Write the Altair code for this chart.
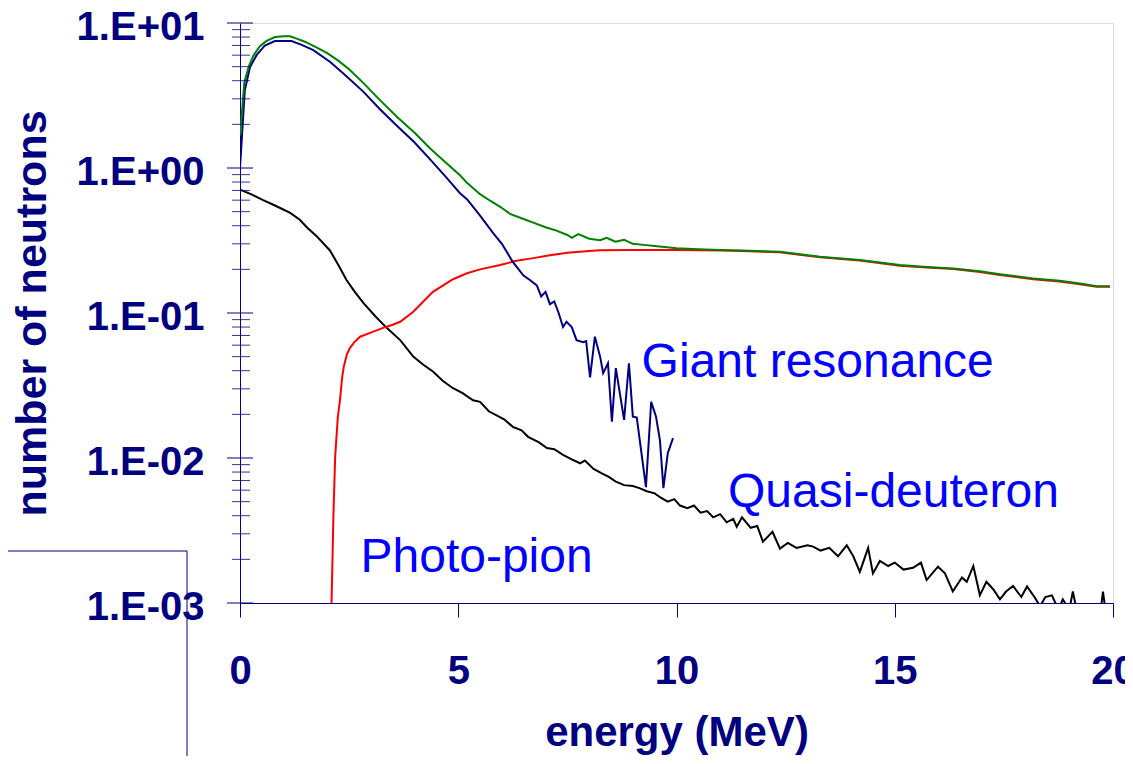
import altair as alt
import pandas as pd

# ---------------- data ----------------
total_x = [0, 0.1, 0.2, 0.3, 0.45, 0.6, 0.8, 1.0, 1.15, 1.3, 1.5, 1.75, 2.0, 2.25, 2.5,
           2.83, 3.2, 3.6, 4.0, 4.35, 4.7, 5.04, 5.2, 5.5, 5.75, 5.96, 6.2, 6.45, 6.72,
           7.0, 7.25, 7.5, 7.6, 7.75, 8.0, 8.25, 8.4, 8.6, 8.8, 9.0, 9.25, 9.5, 9.78,
           10.0, 10.5, 11.0, 11.5, 12.0, 12.37, 13.29, 14.2, 15.12, 15.73, 16.34, 16.95,
           17.41, 18.17, 18.78, 19.24, 19.63, 19.93]
total_y = [1.68, 3.9, 5.0, 5.9, 6.9, 7.5, 8.0, 8.1, 8.1, 7.8, 7.4, 6.8, 6.2, 5.5, 4.8,
           3.85, 2.95, 2.25, 1.75, 1.37, 1.1, 0.89, 0.79, 0.66, 0.59, 0.54, 0.48, 0.45, 0.42,
           0.39, 0.37, 0.345, 0.33, 0.35, 0.325, 0.318, 0.33, 0.31, 0.32, 0.30, 0.295, 0.29, 0.284,
           0.28, 0.275, 0.272, 0.27, 0.267, 0.264, 0.244, 0.232, 0.214, 0.208, 0.203, 0.194,
           0.185, 0.173, 0.167, 0.16, 0.153, 0.153]

giant_x = [0, 0.11, 0.23, 0.38, 0.57, 0.8, 1.0, 1.18, 1.4, 1.68, 2.06, 2.4, 2.83, 3.2, 3.6,
           4.0, 4.35, 4.7, 5.04, 5.2, 5.5, 5.8, 6.0, 6.25, 6.49, 6.64, 6.8, 6.9, 7.0, 7.1,
           7.2, 7.3, 7.4, 7.48, 7.6, 7.71, 7.86, 7.93, 8.02, 8.13, 8.25, 8.32, 8.43, 8.52,
           8.61, 8.8, 8.91, 9.0, 9.09, 9.3, 9.42, 9.53, 9.62, 9.7, 9.8, 9.92]
giant_y = [1.0, 3.44, 4.98, 6.0, 7.0, 7.5, 7.5, 7.5, 7.1, 6.5, 5.4, 4.4, 3.35, 2.55, 1.95,
           1.5, 1.15, 0.88, 0.67, 0.61, 0.47, 0.355, 0.3, 0.225, 0.182, 0.169, 0.155, 0.13, 0.14, 0.115,
           0.12, 0.1, 0.08, 0.087, 0.08, 0.065, 0.063, 0.064, 0.036, 0.0686, 0.05, 0.0385, 0.045, 0.0178,
           0.0417, 0.0183, 0.045, 0.0193, 0.019, 0.0063, 0.0244, 0.0193, 0.0133, 0.0062, 0.0108, 0.0137]

pion_x = [2.09, 2.14, 2.18, 2.24, 2.29, 2.34, 2.38, 2.45, 2.52, 2.62, 2.75, 2.98, 3.28, 3.5,
          3.67, 3.97, 4.2, 4.42, 4.88, 5.2, 5.5, 5.96, 6.3, 6.72, 7.1, 7.5, 8.0, 8.25, 9.0,
          10.0, 10.5, 11.0, 11.5, 12.0, 12.37, 13.29, 14.2, 15.12, 15.73, 16.34, 16.95,
          17.41, 18.17, 18.78, 19.24, 19.63, 19.93]
pion_y = [0.0008, 0.004, 0.0102, 0.019, 0.025, 0.036, 0.043, 0.052, 0.0575, 0.063, 0.0686, 0.073, 0.079, 0.083,
          0.087, 0.102, 0.12, 0.14, 0.171, 0.188, 0.2, 0.214, 0.228, 0.239, 0.25, 0.26, 0.268, 0.271, 0.272,
          0.272, 0.271, 0.27, 0.268, 0.265, 0.262, 0.242, 0.23, 0.212, 0.206, 0.201, 0.192,
          0.183, 0.171, 0.165, 0.158, 0.152, 0.152]

quasi_x = [0, 0.25, 0.53, 0.75, 0.92, 1.15, 1.37, 1.53, 1.75, 2.06, 2.25, 2.44, 2.63, 2.83,
           3.1, 3.36, 3.67, 3.97, 4.2, 4.42, 4.65, 4.88, 5.1, 5.34, 5.5, 5.7, 5.9, 6.05, 6.25,
           6.45, 6.6, 6.85, 7.03, 7.2, 7.4, 7.6, 7.79, 7.9, 8.1, 8.3, 8.45, 8.6, 8.8, 9.0,
           9.15, 9.32, 9.5, 9.65, 9.8, 9.95, 10.08, 10.25, 10.4, 10.55, 10.7, 10.84, 11.0,
           11.15, 11.3, 11.38, 11.5, 11.7, 11.85, 11.98, 12.2, 12.37, 12.55, 12.75, 13.0,
           13.13, 13.3, 13.5, 13.7, 13.9, 14.05, 14.2, 14.39, 14.5, 14.66, 14.85, 15.0, 15.2,
           15.42, 15.6, 15.73, 15.99, 16.15, 16.33, 16.54, 16.65, 16.8, 16.95, 17.1, 17.26,
           17.41, 17.55, 17.71, 17.9, 18.03, 18.2, 18.33, 18.45, 18.6, 18.75, 18.85, 19.0,
           19.08, 19.2, 19.5, 19.7, 19.77, 19.85, 20.0]
quasi_y = [0.71, 0.66, 0.6, 0.56, 0.53, 0.49, 0.44, 0.39, 0.34, 0.27, 0.215, 0.169, 0.14, 0.117,
           0.095, 0.079, 0.065, 0.05, 0.044, 0.0395, 0.034, 0.0303, 0.028, 0.025, 0.0244, 0.021, 0.0195, 0.0185, 0.0164,
           0.0155, 0.014, 0.0128, 0.0117, 0.0115, 0.0105, 0.0098, 0.0092, 0.0096, 0.0084, 0.0078, 0.0074, 0.0069, 0.0065, 0.0064,
           0.0062, 0.0059, 0.0057, 0.0053, 0.005, 0.0052, 0.0047, 0.0045, 0.0047, 0.0042, 0.0043, 0.0039, 0.0041,
           0.0036, 0.0038, 0.00336, 0.0039, 0.0033, 0.0034, 0.00265, 0.0031, 0.00237, 0.0026, 0.0024, 0.0025,
           0.00245, 0.0023, 0.0024, 0.0021, 0.0025, 0.0021, 0.00164, 0.0024, 0.0016, 0.00195, 0.0018, 0.0019, 0.0017,
           0.00175, 0.0019, 0.00144, 0.00178, 0.0016, 0.0012, 0.0015, 0.0014, 0.0018, 0.00113, 0.0014, 0.00124,
           0.00106, 0.0012, 0.00131, 0.0011, 0.0013, 0.0011, 0.00095, 0.0011, 0.00113, 0.0009, 0.00106, 0.0009,
           0.0012, 0.0008, 0.0008, 0.0008, 0.0012, 0.0008, 0.0008]

ann_labels = ["Giant resonance", "Quasi-deuteron", "Photo-pion"]
ann_x = [9.2, 11.18, 2.76]
ann_y = [0.0361, 0.0046, 0.00164]

x_ticks = [0, 5, 10, 15, 20]
y_ticks = [0.001, 0.01, 0.1, 1, 10]
y_tick_labels = ["1.E-03", "1.E-02", "1.E-01", "1.E+00", "1.E+01"]
y_minor = [d * k for d in [0.001, 0.01, 0.1, 1] for k in range(2, 10)]

NAVY = "#000080"
FONT = "Liberation Sans"

label_expr = ""
for v, lab in zip(y_ticks[:-1], y_tick_labels[:-1]):
    label_expr += f"datum.value < {v * 2} ? '{lab}' : "
label_expr += f"'{y_tick_labels[-1]}'"

xscale = alt.Scale(domain=[0, 20], nice=False, zero=False)
yscale = alt.Scale(type="log", domain=[0.001, 10], nice=False)

xaxis = alt.Axis(values=x_ticks, format="d", grid=False, domainColor=NAVY, domainWidth=1,
                 tickColor=NAVY, tickSize=14, tickWidth=1,
                 labelFont=FONT, labelFontSize=40, labelFontWeight="bold", labelColor=NAVY,
                 labelPadding=34, labelFlush=False, labelOverlap=False,
                 title="energy (MeV)", titleFont=FONT, titleFontSize=42, titleFontWeight="bold",
                 titleColor=NAVY, titleY=142, titleBaseline="alphabetic")
yaxis = alt.Axis(values=y_ticks, labelExpr=label_expr, grid=False, ticks=False, tickSize=0,
                 domainColor=NAVY, domainWidth=1,
                 labelFont=FONT, labelFontSize=40, labelFontWeight="bold", labelColor=NAVY,
                 labelPadding=36, labelOffset=4, labelFlush=False, labelOverlap=False,
                 title="number of neutrons", titleFont=FONT, titleFontSize=43, titleFontWeight="bold",
                 titleColor=NAVY, titleX=-195, titleY=290, titleAngle=-90,
                 titleBaseline="alphabetic", titleAlign="center")

X = alt.X("x:Q", scale=xscale, axis=xaxis)
Y = alt.Y("y:Q", scale=yscale, axis=yaxis)


def line(xs, ys, color):
    df = pd.DataFrame({"x": xs, "y": ys})
    return alt.Chart(df).mark_line(color=color, strokeWidth=2, clip=True, interpolate="linear").encode(x=X, y=Y)


major_df = pd.DataFrame({"y": y_ticks})
minor_df = pd.DataFrame({"y": y_minor})
major_ticks = alt.Chart(major_df).mark_rule(color=NAVY, strokeWidth=1).encode(
    y=Y, x=alt.value(-13), x2=alt.value(13))
minor_ticks = alt.Chart(minor_df).mark_rule(color=NAVY, strokeWidth=1, opacity=0.8).encode(
    y=Y, x=alt.value(-8), x2=alt.value(10))

ann_df = pd.DataFrame({"x": ann_x, "y": ann_y, "label": ann_labels})
annotations = alt.Chart(ann_df).mark_text(
    align="left", baseline="alphabetic", font=FONT, fontSize=48, color="#0000ff"
).encode(x=X, y=Y, text="label:N")

decor = alt.Data(values=[{"k": 1}])
box_h = alt.Chart(decor).mark_rule(color=NAVY, strokeWidth=1).encode(
    x=alt.value(-240), x2=alt.value(-53), y=alt.value(528))
box_v = alt.Chart(decor).mark_rule(color=NAVY, strokeWidth=1).encode(
    x=alt.value(-53), y=alt.value(528), y2=alt.value(760))

chart = alt.layer(
    line(quasi_x, quasi_y, "#000000"),
    line(pion_x, pion_y, "#ff0000"),
    line(giant_x, giant_y, NAVY),
    line(total_x, total_y, "#008000"),
    minor_ticks,
    major_ticks,
    annotations,
    box_h,
    box_v,
).properties(
    width=873, height=580,
    autosize=alt.AutoSizeParams(type="none"),
    padding={"left": 232, "top": 15, "right": 12, "bottom": 153},
).configure_view(
    stroke="#3c3c9a", strokeWidth=1.5
).configure(background="white")

chart.save("out.html", embed_options={"renderer": "svg", "actions": False})
